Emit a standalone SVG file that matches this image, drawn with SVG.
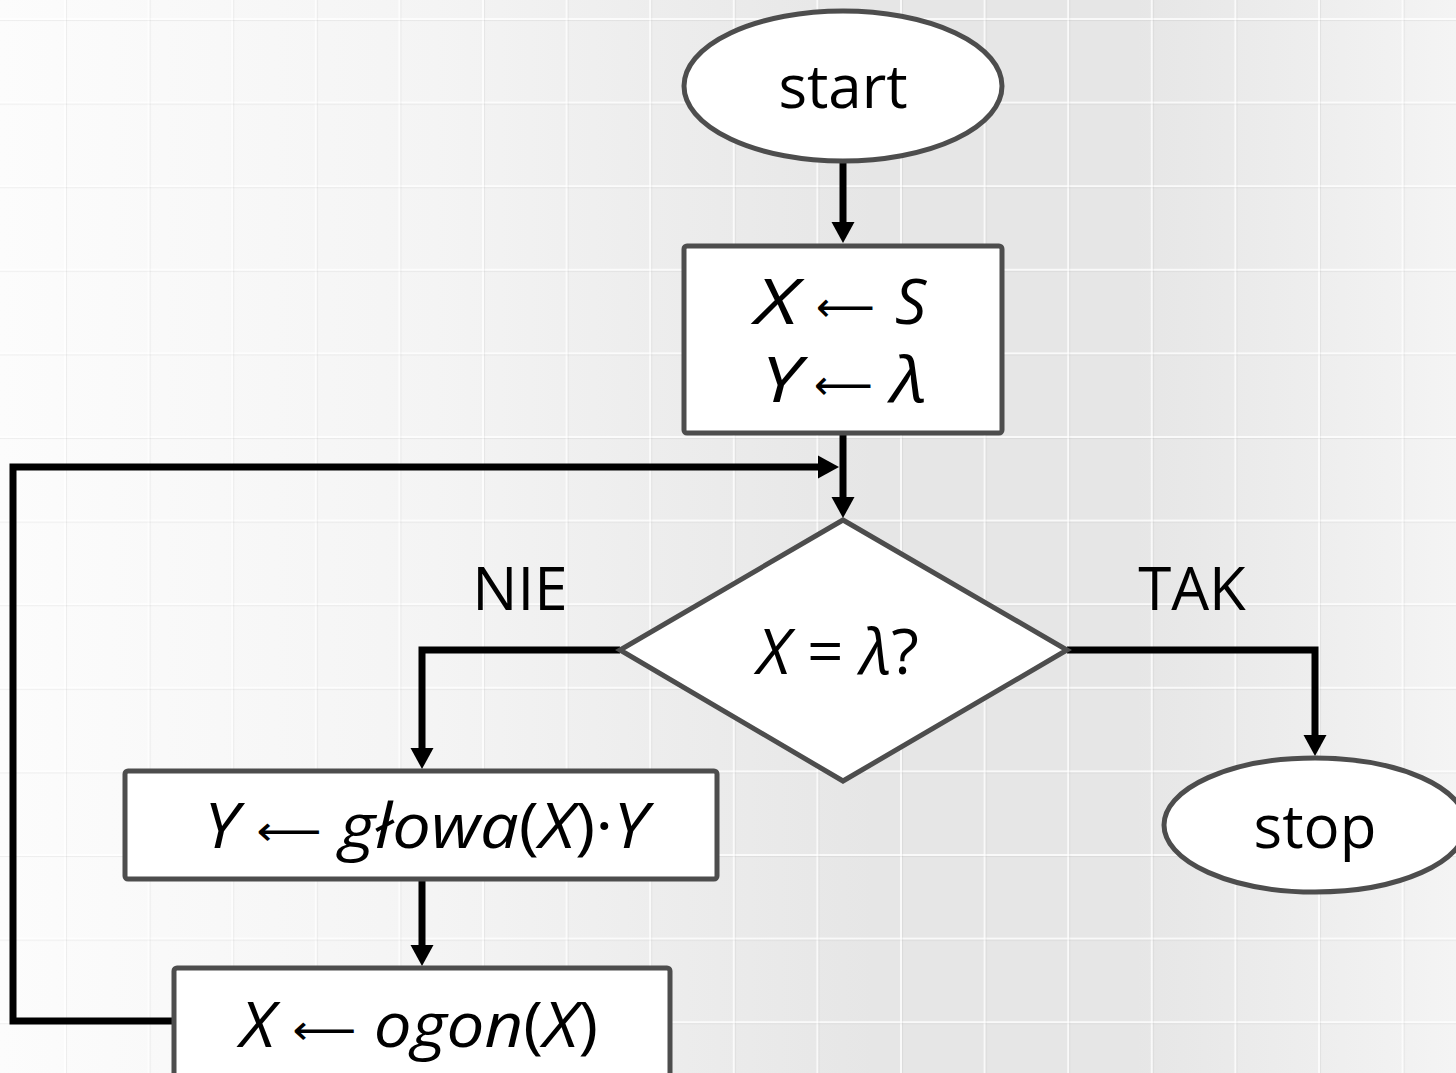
<svg xmlns="http://www.w3.org/2000/svg" width="1456" height="1073" viewBox="0 0 1456 1073">
<style>
.node{fill:#fff;stroke:#4d4d4d;stroke-width:5}
.conn{fill:none;stroke:#000;stroke-width:7;stroke-linejoin:miter}
.t{font-family:"Open Sans","Noto Sans","DejaVu Sans",sans-serif;font-size:60px;fill:#000}
.m{font-family:"Open Sans","Noto Sans","DejaVu Sans",sans-serif;font-size:62px;font-style:italic;fill:#000}
.ar{font-family:"DejaVu Sans",sans-serif;font-style:normal;font-size:41px}
.up{font-style:normal}
</style>
<defs>
<linearGradient id="bg" x1="0" y1="0" x2="1" y2="0">
<stop offset="0" stop-color="#fcfcfc"/>
<stop offset="0.3" stop-color="#f4f4f4"/>
<stop offset="0.6" stop-color="#e6e6e6"/>
<stop offset="0.78" stop-color="#e6e6e6"/>
<stop offset="1" stop-color="#f4f4f4"/>
</linearGradient>
<pattern id="grid" patternUnits="userSpaceOnUse" x="64" y="18" width="83.6" height="83.6">
<rect x="0" y="0" width="83.6" height="2" fill="#ffffff" opacity="0.75"/>
<rect x="0" y="0" width="2" height="83.6" fill="#ffffff" opacity="0.75"/>
<rect x="0" y="2" width="83.6" height="1" fill="#000" opacity="0.05"/>
<rect x="2" y="0" width="1" height="83.6" fill="#000" opacity="0.05"/>
</pattern>
<marker id="ah" markerUnits="userSpaceOnUse" markerWidth="22" markerHeight="24" refX="7" refY="11.5" orient="auto" overflow="visible">
<path d="M0,0 L21,11.5 L0,23 z" fill="#000"/>
</marker>
</defs>
<rect x="0" y="0" width="1456" height="1073" fill="url(#bg)"/>
<rect x="0" y="0" width="1456" height="1073" fill="url(#grid)"/>

<g id="connectors">
<path class="conn" d="M843 161 V229" marker-end="url(#ah)"/>
<path class="conn" d="M843 433 V504" marker-end="url(#ah)"/>
<path class="conn" d="M174 1021 H13 V467 H825" marker-end="url(#ah)"/>
<path class="conn" d="M620 650 H422 V755" marker-end="url(#ah)"/>
<path class="conn" d="M1067 650 H1315 V742" marker-end="url(#ah)"/>
<path class="conn" d="M422 880 V952" marker-end="url(#ah)"/>
</g>

<g id="start">
<ellipse class="node" cx="843" cy="86" rx="159" ry="75"/>
<text class="t" x="843" y="108" text-anchor="middle">start</text>
</g>

<g id="init">
<rect class="node" x="684" y="246" width="318" height="187" rx="3"/>
<text class="m" x="755" y="324" textLength="43" lengthAdjust="spacingAndGlyphs">X</text>
<text class="ar" x="816" y="321">⟵</text>
<text class="m" x="895" y="324">S</text>
<text class="m" x="761" y="402" textLength="40" lengthAdjust="spacingAndGlyphs">Y</text>
<text class="ar" x="814" y="399">⟵</text>
<text class="m" x="891" y="402" textLength="36" lengthAdjust="spacingAndGlyphs">λ</text>
</g>

<g id="decision">
<polygon class="node" points="843,520 1067,650 843,781 620,650"/>
<text class="m" x="757" y="674" textLength="162" lengthAdjust="spacingAndGlyphs">X <tspan class="up">=</tspan> λ<tspan class="up">?</tspan></text>
</g>

<g id="label-nie">
<text class="t" x="520" y="610" text-anchor="middle">NIE</text>
</g>
<g id="label-tak">
<text class="t" x="1192" y="610" text-anchor="middle">TAK</text>
</g>

<g id="stop">
<ellipse class="node" cx="1315" cy="825" rx="151" ry="67"/>
<text class="t" x="1315" y="848" text-anchor="middle">stop</text>
</g>

<g id="glowa">
<rect class="node" x="125" y="771" width="592" height="108" rx="3"/>
<text class="m" x="204" y="848" textLength="444" lengthAdjust="spacingAndGlyphs">Y <tspan class="ar" dy="-3">⟵</tspan><tspan dy="3"> głowa</tspan><tspan class="up">(</tspan>X<tspan class="up">)·</tspan>Y</text>
</g>

<g id="ogon">
<rect class="node" x="174" y="968" width="496" height="130" rx="3"/>
<text class="m" x="240" y="1047" textLength="358" lengthAdjust="spacingAndGlyphs">X <tspan class="ar" dy="-3">⟵</tspan><tspan dy="3"> ogon</tspan><tspan class="up">(</tspan>X<tspan class="up">)</tspan></text>
</g>
</svg>
